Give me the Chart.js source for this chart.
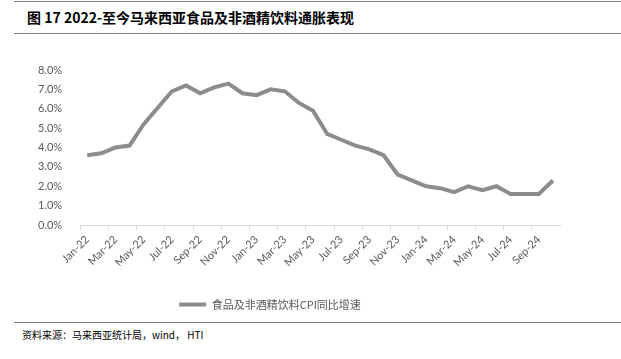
<!DOCTYPE html>
<html>
<head>
<meta charset="utf-8">
<script src="https://cdn.jsdelivr.net/npm/chart.js@4.4.1/dist/chart.umd.min.js"></script>
<style>
  body { margin: 0; width: 621px; height: 359px; background: #fff; position: relative; overflow: hidden; font-family: "Noto Sans CJK SC", sans-serif; }
  .rule { position: absolute; left: 14px; right: 0; height: 1px; background: #7f7f7f; }
  #title { position: absolute; left: 27px; top: 7px; font-size: 14px; font-weight: bold; color: #000; }
  #source { position: absolute; left: 22px; top: 327px; font-size: 10px; color: #000; }
  #wrap { position: absolute; left: 0; top: 40px; width: 621px; height: 280px; }
</style>
</head>
<body>
<div class="rule" style="top:1px"></div>
<div id="title">图 17 2022-至今马来西亚食品及非酒精饮料通胀表现</div>
<div class="rule" style="top:33px"></div>
<div id="wrap"><canvas id="cpiChart"></canvas></div>
<div class="rule" style="top:322px"></div>
<div id="source">资料来源：马来西亚统计局，wind， HTI</div>
<script>
// Monthly labels Jan-22 .. Oct-24
const months = ["Jan-22","Feb-22","Mar-22","Apr-22","May-22","Jun-22","Jul-22","Aug-22","Sep-22","Oct-22","Nov-22","Dec-22",
                "Jan-23","Feb-23","Mar-23","Apr-23","May-23","Jun-23","Jul-23","Aug-23","Sep-23","Oct-23","Nov-23","Dec-23",
                "Jan-24","Feb-24","Mar-24","Apr-24","May-24","Jun-24","Jul-24","Aug-24","Sep-24","Oct-24"];
// 食品及非酒精饮料CPI同比增速 (%)
const foodCpi = [3.6, 3.7, 4.0, 4.1, 5.2, 6.05, 6.9, 7.2, 6.8, 7.1, 7.3, 6.8,
                 6.7, 7.0, 6.9, 6.3, 5.9, 4.7, 4.4, 4.1, 3.9, 3.6, 2.6, 2.3,
                 2.0, 1.9, 1.7, 2.0, 1.8, 2.0, 1.6, 1.6, 1.6, 2.3];
const seriesName = "食品及非酒精饮料CPI同比增速";
const yTicks = [0, 1, 2, 3, 4, 5, 6, 7, 8];

const labelColor = '#595959';
const axisColor = '#d9d9d9';

// legend in the original sits a bit left of the plot centre
const legendShift = {
  id: 'legendShift',
  afterLayout(chart) {
    chart.legend.left -= 24;
    chart.legend.right -= 24;
  }
};

const ctx = document.getElementById('cpiChart').getContext('2d');
const cpiChart = new Chart(ctx, {
  type: 'line',
  data: {
    labels: months,
    datasets: [{
      label: seriesName,
      data: foodCpi,
      borderColor: '#8c8c8c',
      backgroundColor: '#8c8c8c',
      borderWidth: 4,
      pointRadius: 0,
      tension: 0,
      fill: false
    }]
  },
  plugins: [legendShift],
  options: {
    responsive: true,
    maintainAspectRatio: false,
    animation: false,
    layout: { padding: { left: 28, right: 61, top: 30, bottom: 0 } },
    plugins: {
      tooltip: { enabled: false },
      legend: {
        position: 'bottom',
        labels: {
          usePointStyle: true,
          pointStyle: 'line',
          pointStyleWidth: 27,
          color: labelColor,
          font: { family: '"Noto Sans CJK SC"', size: 11 },
          padding: 6
        }
      }
    },
    scales: {
      x: {
        offset: true,
        afterFit: (axis) => { axis.height = 68; },
        grid: {
          offset: true,
          drawOnChartArea: false,
          tickLength: 5,
          color: (c) => (c.index % 2 === 0 ? axisColor : 'rgba(0,0,0,0)')
        },
        border: { display: true, color: axisColor },
        ticks: {
          autoSkip: false,
          maxRotation: 45,
          minRotation: 45,
          color: labelColor,
          font: { family: 'Lato', size: 11 },
          callback: function (val, i) { return i % 2 === 0 ? months[i] : ''; }
        }
      },
      y: {
        min: yTicks[0],
        max: yTicks[yTicks.length - 1],
        grid: { display: false },
        border: { display: false },
        afterBuildTicks: (axis) => { axis.ticks = yTicks.map(v => ({ value: v })); },
        ticks: {
          padding: 10,
          color: labelColor,
          font: { family: 'Lato', size: 11 },
          callback: (v) => v.toFixed(1) + '%'
        }
      }
    }
  }
});
</script>
</body>
</html>
